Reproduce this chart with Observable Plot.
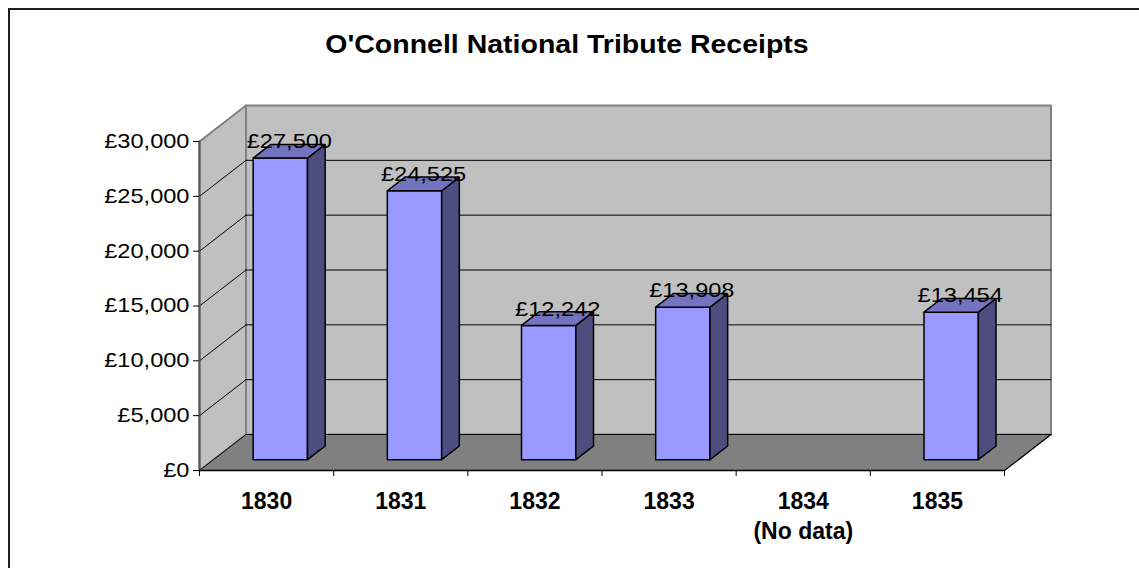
<!DOCTYPE html>
<html>
<head>
<meta charset="utf-8">
<script src="https://cdn.jsdelivr.net/npm/d3@7"></script>
<script src="https://cdn.jsdelivr.net/npm/@observablehq/plot@0.6"></script>
<style>
html,body{margin:0;padding:0;background:#fff;overflow:hidden;}
#wrap{position:relative;width:1139px;height:568px;overflow:hidden;font-family:"Liberation Sans",Arial,sans-serif;}
#border{position:absolute;left:8px;top:8px;width:1300px;height:700px;border:2px solid #1e1e1e;}
#title{position:absolute;left:0;top:32px;width:1134px;text-align:center;font-weight:bold;font-size:25px;line-height:25px;transform:scaleX(1.14);color:#000;}
#chart{position:absolute;left:0;top:0;}
</style>
</head>
<body>
<div id="wrap">
  <div id="border"></div>
  <div id="title">O'Connell National Tribute Receipts</div>
  <div id="chart"></div>
</div>
<script>
// ---- data ----
const years = ["1830", "1831", "1832", "1833", "1834", "1835"];
const yearNotes = ["", "", "", "", "(No data)", ""];
const receipts = [27500, 24525, 12242, 13908, null, 13454];
const yTicks = [0, 5000, 10000, 15000, 20000, 25000, 30000];
const gridValues = [0, 5000, 10000, 15000, 20000, 25000];
const yMax = 30000;

// ---- oblique 3D projection (in data units) ----
const DEPTH_X = 46.5 / (805 / 6);     // category units per full depth
const DEPTH_Y = 36 * 30000 / 329;     // value units per full depth
const T0 = 0.3, T1 = 0.68, TM = (T0 + T1) / 2;   // bar depth span
const BX0 = 0.296, BX1 = 0.701;        // bar span within band
const n = years.length;

const P = (x, v, t) => ({x: x + DEPTH_X * t, y: v + DEPTH_Y * t});
function poly(id, pts) {
  const closed = pts.concat([pts[0]]);
  return closed.map(([x, v, t]) => ({...P(x, v, t), id}));
}
function seg(id, a, b) { return [a, b].map(([x, v, t]) => ({...P(x, v, t), id})); }

const backWall = poly("back", [[0, 0, 1], [n, 0, 1], [n, yMax, 1], [0, yMax, 1]]);
const sideWall = poly("side", [[0, 0, 0], [0, 0, 1], [0, yMax, 1], [0, yMax, 0]]);
const floor = poly("floor", [[0, 0, 0], [n, 0, 0], [n, 0, 1], [0, 0, 1]]);
const grid = gridValues.flatMap(v => [
  ...seg("gb" + v, [0, v, 1], [n, v, 1]),
  ...seg("gs" + v, [0, v, 0], [0, v, 1])
]);
const floorEdges = [
  ...seg("front", [0, 0, 0], [n, 0, 0]),
  ...seg("right", [n, 0, 0], [n, 0, 1])
];
const axisEdge = seg("yaxis", [0, 0, 0], [0, yMax, 0]);

const fronts = [], sides = [], tops = [], labels = [];
receipts.forEach((v, i) => {
  if (v == null) return;
  const x0 = i + BX0, x1 = i + BX1;
  fronts.push(...poly("f" + i, [[x0, 0, T0], [x1, 0, T0], [x1, v, T0], [x0, v, T0]]));
  sides.push(...poly("s" + i, [[x1, 0, T0], [x1, 0, T1], [x1, v, T1], [x1, v, T0]]));
  tops.push(...poly("t" + i, [[x0, v, T0], [x1, v, T0], [x1, v, T1], [x0, v, T1]]));
  labels.push({...P(i + 0.5, v, TM), text: "£" + d3.format(",")(v)});
});
const catLabels = years.map((y, i) => ({x: i + 0.5, y: 0, text: yearNotes[i] ? y + "\n" + yearNotes[i] : y}));

const fmt = d => "£" + d3.format(",")(d);

const chart = Plot.plot({
  width: 1139,
  height: 568,
  marginLeft: 199,
  marginRight: 88.5,
  marginTop: 105,
  marginBottom: 98,
  style: {fontFamily: "'Liberation Sans', Arial, sans-serif", background: "transparent", color: "#000"},
  x: {type: "linear", domain: [0, n + DEPTH_X], label: null},
  y: {type: "linear", domain: [0, yMax + DEPTH_Y], label: null},
  marks: [
    Plot.line(backWall, {x: "x", y: "y", z: "id", fill: "#c0c0c0", stroke: "#808080", strokeWidth: 2, curve: "linear"}),
    Plot.line(sideWall, {x: "x", y: "y", z: "id", fill: "#c0c0c0", stroke: "#808080", strokeWidth: 2, curve: "linear"}),
    Plot.line(floor, {x: "x", y: "y", z: "id", fill: "#808080", stroke: "none", curve: "linear"}),
    Plot.line(grid, {x: "x", y: "y", z: "id", stroke: "#000", strokeWidth: 1}),
    Plot.line(floorEdges, {x: "x", y: "y", z: "id", stroke: "#000", strokeWidth: 1.3}),
    Plot.line(axisEdge, {x: "x", y: "y", z: "id", stroke: "#555", strokeWidth: 2}),
    Plot.line(fronts, {x: "x", y: "y", z: "id", fill: "#9999ff", stroke: "#000", strokeWidth: 1.5, strokeLinejoin: "miter"}),
    Plot.line(sides, {x: "x", y: "y", z: "id", fill: "#4d4d80", stroke: "#000", strokeWidth: 1.5, strokeLinejoin: "miter"}),
    Plot.line(tops, {x: "x", y: "y", z: "id", fill: "#7373bf", stroke: "#000", strokeWidth: 1.5, strokeLinejoin: "miter"}),
    Plot.axisY({ticks: yTicks, tickFormat: fmt, tickSize: 6, tickPadding: 4, fontSize: 20, label: null, anchor: "left"}),
    Plot.axisX({ticks: d3.range(n + 1), tickFormat: () => "", tickSize: 6, label: null, anchor: "bottom"}),
    Plot.text(catLabels, {x: "x", y: "y", text: "text", fontWeight: "bold", fontSize: 23, lineAnchor: "top", dy: 17.7, lineHeight: 1.3}),
    Plot.text(labels, {x: "x", y: "y", text: "text", fontSize: 20, lineAnchor: "top", dy: -17.2})
  ]
});

// horizontal stretch of regular-weight (currency) labels, as in the reference rendering
chart.querySelectorAll("text").forEach(t => {
  if (!t.textContent.startsWith("£")) return;
  const tr = t.getAttribute("transform");
  if (tr) {
    t.setAttribute("transform", tr + " scale(1.18,1)");
  } else {
    const x = +t.getAttribute("x") || 0;
    t.setAttribute("transform", `translate(${x},0) scale(1.18,1) translate(${-x},0)`);
  }
});

document.getElementById("chart").appendChild(chart);
</script>
</body>
</html>
